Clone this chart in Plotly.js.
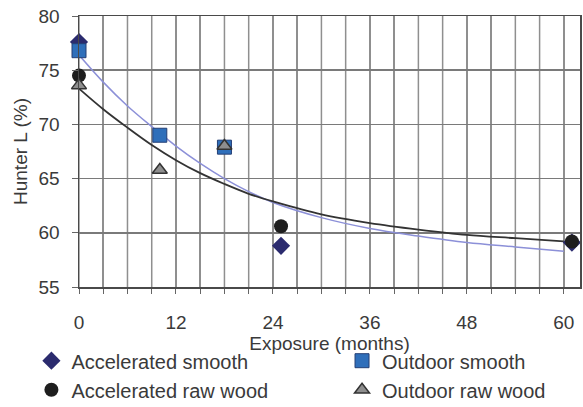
<!DOCTYPE html>
<html>
<head>
<meta charset="utf-8">
<script src="https://cdn.plot.ly/plotly-3.0.1.min.js"></script>
<style>html,body{margin:0;padding:0;background:#fff;}#chart{width:583px;height:407px;}</style>
</head>
<body>
<div id="chart"></div>
<script>
// Measured points
var accSmoothX = [0, 25, 61];
var accSmoothY = [77.6, 58.8, 59.1];
var outSmoothX = [0, 10, 18];
var outSmoothY = [76.8, 69.0, 67.9];
var accRawX = [0, 25, 61];
var accRawY = [74.5, 60.6, 59.2];
var outRawX = [0, 10, 18];
var outRawY = [73.6, 65.8, 68.0];

// Trend curves
var fitX = [0, 3, 6, 9, 12, 15, 18, 21, 24, 30, 36, 42, 48, 54, 60];
var fitSmoothY = [76.4, 73.9, 71.7, 69.8, 68.0, 66.4, 65.0, 63.8, 62.8, 61.4, 60.4, 59.7, 59.1, 58.7, 58.3];
var fitRawY = [73.3, 71.4, 69.7, 68.1, 66.7, 65.5, 64.5, 63.6, 62.9, 61.7, 60.9, 60.3, 59.8, 59.5, 59.2];

// x grid every 3 months, labels every 12
var xGrid = [0, 3, 6, 9, 12, 15, 18, 21, 24, 27, 30, 33, 36, 39, 42, 45, 48, 51, 54, 57, 60];
var xLabels = ['0', '', '', '', '12', '', '', '', '24', '', '', '', '36', '', '', '', '48', '', '', '', '60'];
var yTicks = [55, 60, 65, 70, 75, 80];

var FONT = 'Liberation Sans, Arial, sans-serif';
var TXT = '#3a3a3a';
var gridC = '#8f8f8f';

var traces = [
  {x: fitX, y: fitSmoothY, mode: 'lines', line: {shape: 'spline', color: '#8c90d8', width: 1.5}, showlegend: false, hoverinfo: 'skip'},
  {x: fitX, y: fitRawY, mode: 'lines', line: {shape: 'spline', color: '#333333', width: 1.8}, showlegend: false, hoverinfo: 'skip'},
  {x: accSmoothX, y: accSmoothY, name: 'Accelerated smooth', mode: 'markers', legend: 'legend',
   marker: {symbol: 'diamond', size: 14, color: '#2b2b6e'}, cliponaxis: false},
  {x: outSmoothX, y: outSmoothY, name: 'Outdoor smooth', mode: 'markers', legend: 'legend2',
   marker: {symbol: 'square', size: 14, color: '#2f6fba', line: {color: '#243f75', width: 1}}, cliponaxis: false},
  {x: accRawX, y: accRawY, name: 'Accelerated raw wood', mode: 'markers', legend: 'legend',
   marker: {symbol: 'circle', size: 14, color: '#1e1e1e'}, cliponaxis: false},
  {x: outRawX, y: outRawY, name: 'Outdoor raw wood', mode: 'markers', legend: 'legend2',
   marker: {symbol: 'triangle-up', size: 13, color: '#8e8e8e', line: {color: '#333', width: 1.5}}, cliponaxis: false}
];

// vertical grid lines as shapes (data x, full plot height)
var gridShapes = xGrid.map(function (v) {
  return {type: 'line', layer: 'below', xref: 'x', yref: 'paper', x0: v, x1: v, y0: 0, y1: 1,
          line: {color: gridC, width: 1.5}};
});

var layout = {
  width: 583, height: 407,
  margin: {l: 79, r: 3, t: 16, b: 120, autoexpand: false},
  font: {family: FONT, color: TXT, size: 19},
  showlegend: true,
  shapes: gridShapes,
  xaxis: {
    range: [0, 62], tickmode: 'array', tickvals: xGrid, ticktext: xLabels,
    showgrid: true, gridcolor: gridC, gridwidth: 1.5,
    ticks: 'outside', ticklen: 5, tickcolor: '#666',
    showline: true, linecolor: '#4a4a4a', linewidth: 1.5, mirror: true, zeroline: false,
    tickfont: {size: 19, family: FONT, color: TXT}, ticklabelstandoff: 13,
    title: {text: 'Exposure (months)', font: {size: 19, family: FONT, color: TXT}, standoff: 2}
  },
  yaxis: {
    range: [55, 80], tickvals: yTicks, ticktext: yTicks.map(String),
    showgrid: true, gridcolor: '#7a7a7a', gridwidth: 1.5,
    ticks: 'outside', ticklen: 6, tickcolor: '#666',
    showline: true, linecolor: '#4a4a4a', linewidth: 1.5, mirror: true, zeroline: false,
    tickfont: {size: 19, family: FONT, color: TXT}, ticklabelstandoff: 8,
    title: {text: 'Hunter L (%)', font: {size: 19, family: FONT, color: TXT}, standoff: 6}
  },
  legend: {
    x: -0.095, xanchor: 'left', y: -0.2, yanchor: 'top', orientation: 'v',
    font: {size: 20, family: FONT, color: TXT}, bgcolor: 'rgba(0,0,0,0)', tracegroupgap: 0, itemwidth: 30
  },
  legend2: {
    x: 0.525, xanchor: 'left', y: -0.2, yanchor: 'top', orientation: 'v',
    font: {size: 20, family: FONT, color: TXT}, bgcolor: 'rgba(0,0,0,0)', tracegroupgap: 0, itemwidth: 30
  }
};

Plotly.newPlot('chart', traces, layout, {staticPlot: true});
</script>
</body>
</html>
